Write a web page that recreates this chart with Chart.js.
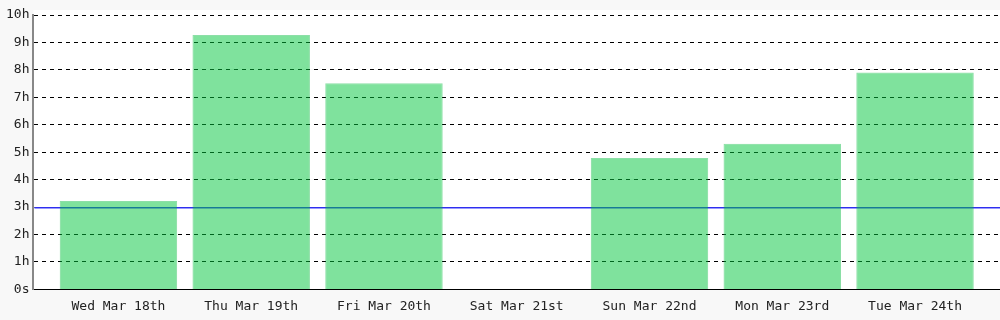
<!DOCTYPE html>
<html>
<head>
<meta charset="utf-8">
<script src="https://cdn.jsdelivr.net/npm/chart.js@4"></script>
<style>
  body { margin: 0; background: #f8f8f8; }
  #wrap { width: 1000px; height: 320px; }
</style>
</head>
<body>
<div id="wrap"><canvas id="hoursChart"></canvas></div>
<script>
// Days shown and hours worked each day
const days = ["Wed Mar 18th", "Thu Mar 19th", "Fri Mar 20th", "Sat Mar 21st", "Sun Mar 22nd", "Mon Mar 23rd", "Tue Mar 24th"];
const hours = [3.22, 9.27, 7.51, 0, 4.79, 5.31, 7.9];
const goalHours = 3;
const yTicks = [0, 1, 2, 3, 4, 5, 6, 7, 8, 9, 10];

// white plot area behind everything
const plotBackground = {
  id: "plotBackground",
  beforeDraw(chart) {
    const { ctx, chartArea } = chart;
    ctx.save();
    ctx.fillStyle = "#ffffff";
    ctx.fillRect(chartArea.left, chartArea.top - 5, chartArea.right - chartArea.left, chartArea.bottom - chartArea.top + 5);
    ctx.restore();
  }
};

// daily goal line, over the grid but under the bars
const goalLine = {
  id: "goalLine",
  beforeDatasetsDraw(chart) {
    const { ctx, chartArea, scales } = chart;
    const row = Math.round(scales.y.getPixelForValue(goalHours) - 0.5);
    const w = chartArea.right - chartArea.left;
    ctx.save();
    // hide the dashed 3h grid line
    ctx.fillStyle = "#ffffff";
    ctx.fillRect(chartArea.left + 1, row - 1, w, 3);
    ctx.fillStyle = "#2f2fee";
    ctx.fillRect(chartArea.left + 1, row, w, 1);
    ctx.fillStyle = "rgba(70, 70, 255, 0.55)";
    ctx.fillRect(chartArea.left + 1, row + 1, w, 1);
    ctx.restore();
  }
};

const font = { family: "'DejaVu Sans Mono', monospace", size: 13 };

new Chart(document.getElementById("hoursChart").getContext("2d"), {
  type: "bar",
  data: {
    datasets: [{
      data: hours.map((h, i) => ({ x: i, y: h })),
      backgroundColor: "rgba(0, 198, 60, 0.5)",
      borderColor: "rgba(0, 185, 60, 0.45)",
      borderWidth: 1,
      barPercentage: 0.885,
      categoryPercentage: 1
    }]
  },
  options: {
    responsive: true,
    maintainAspectRatio: false,
    animation: false,
    layout: { padding: { top: 15, left: 2, right: 0, bottom: 5 } },
    plugins: { legend: { display: false }, tooltip: { enabled: false } },
    scales: {
      x: {
        type: "linear",
        min: -0.64,
        max: 6.64,
        offset: false,
        grid: { display: false, offset: false },
        border: { display: true, color: "#000000", width: 1 },
        ticks: {
          includeBounds: false,
          stepSize: 1,
          autoSkip: false,
          maxRotation: 0,
          color: "#222222",
          font: font,
          padding: 1,
          callback: v => days[v] ?? ""
        }
      },
      y: {
        min: 0,
        max: 10,
        afterBuildTicks: scale => { scale.ticks = yTicks.map(v => ({ value: v })); },
        grid: { color: "#000000", lineWidth: 1, drawTicks: false },
        border: { display: true, color: "#888888", width: 2, dash: [4, 4] },
        ticks: {
          color: "#222222",
          font: font,
          padding: 4,
          callback: v => v === 0 ? "0s" : v + "h"
        }
      }
    }
  },
  plugins: [plotBackground, goalLine]
});
</script>
</body>
</html>
